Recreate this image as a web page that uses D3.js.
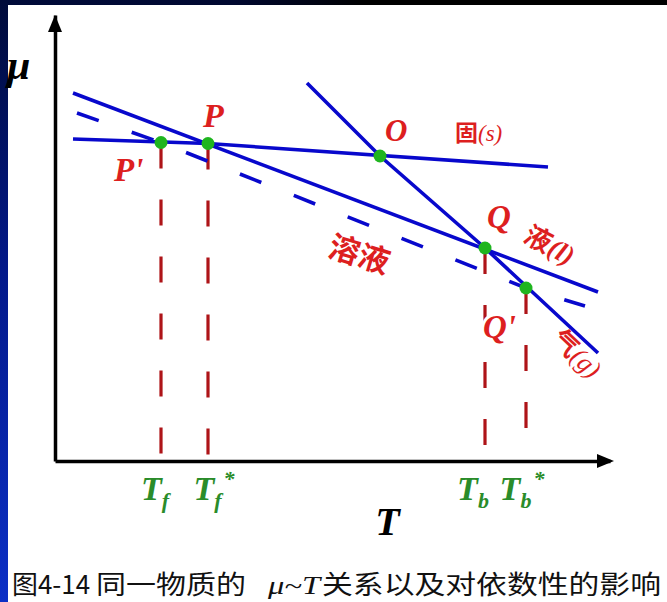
<!DOCTYPE html>
<html>
<head>
<meta charset="utf-8">
<script src="https://cdn.jsdelivr.net/npm/d3@7"></script>
<style>
  html, body { margin: 0; padding: 0; background: #fff; }
  svg { display: block; }
</style>
</head>
<body>
<svg id="chart" width="667" height="602"></svg>
<script>
// μ–T lines of a pure substance (solid, liquid, gas) and of its solution, as [T, μ] pairs
const solidLine    = [[3.6, 64.4], [30.6, 63.5], [98.6, 58.8]];
const liquidLine   = [[3.6, 73.6], [108.6, 33.8]];
const gasLine      = [[50.4, 75.6], [65, 61], [86, 42.6], [108.6, 21.6]];
const solutionLine = [[4.4, 69.6], [21.2, 63.7], [94.2, 34.6], [106, 31]];

// intersection points
const pointNames = ["P'", "P", "O", "Q", "Q'"];
const pointT     = [21.2, 30.6, 65, 86, 94.2];
const pointMu    = [63.7, 63.5, 61, 42.6, 34.6];

// points dropped onto the T axis, with their temperature labels
const dropPoints  = ["P'", "P", "Q", "Q'"];
const tickMain    = ["T", "T", "T", "T"];
const tickSub     = ["f", "f", "b", "b"];
const tickStar    = ["", "*", "", "*"];

const captionParts = ["图4-14", "同一物质的", "μ~T", "关系以及对依数性的影响"];

const W = 667, H = 602;
const svg = d3.select("#chart");

const x = d3.scaleLinear().domain([0, 111]).range([55, 610]);
const y = d3.scaleLinear().domain([0, 89.2]).range([461, 15]);

const BLUE = "#0808cc", RED = "#dd1f1f", DARKRED = "#ae1418", GREEN = "#2a8c2a", DOT = "#1fb51f";
const SERIF = "'Liberation Serif','Times New Roman',serif";
const CJK = "'Noto Sans CJK SC','Noto Sans CJK TC',sans-serif";

// slide frame: dark strip on top and a blue gradient strip on the left
const defs = svg.append("defs");
const gTop = defs.append("linearGradient").attr("id", "topStrip").attr("x1", 0).attr("x2", 1).attr("y1", 0).attr("y2", 0);
gTop.append("stop").attr("offset", "0%").attr("stop-color", "#000b3a");
gTop.append("stop").attr("offset", "35%").attr("stop-color", "#000830");
gTop.append("stop").attr("offset", "55%").attr("stop-color", "#000000");
gTop.append("stop").attr("offset", "100%").attr("stop-color", "#000000");
const gLeft = defs.append("linearGradient").attr("id", "leftStrip").attr("x1", 0).attr("x2", 0).attr("y1", 0).attr("y2", 1);
gLeft.append("stop").attr("offset", "0%").attr("stop-color", "#000b3a");
gLeft.append("stop").attr("offset", "45%").attr("stop-color", "#03198a");
gLeft.append("stop").attr("offset", "100%").attr("stop-color", "#0c30c6");

svg.append("rect").attr("width", W).attr("height", H).attr("fill", "#fff");
svg.append("rect").attr("x", 0).attr("y", 0).attr("width", W).attr("height", 5).attr("fill", "url(#topStrip)");
svg.append("rect").attr("x", 0).attr("y", 0).attr("width", 8).attr("height", H).attr("fill", "url(#leftStrip)");

// axes (no ticks) with arrow heads
const xAxis = svg.append("g").attr("transform", `translate(0,${y(0)})`)
  .call(d3.axisBottom(x).tickValues([]).tickSizeOuter(0));
const yAxis = svg.append("g").attr("transform", `translate(${x(0)},0)`)
  .call(d3.axisLeft(y).tickValues([]).tickSizeOuter(0));
[xAxis, yAxis].forEach(a => a.select(".domain").attr("stroke", "#000").attr("stroke-width", 3.5));

const [x0, x1] = x.range();
const [yb, yt] = y.range();
svg.append("path")
  .attr("d", `M${x1 + 4},${yb} L${x1 - 13},${yb - 7} L${x1 - 13},${yb + 7} Z`)
  .attr("fill", "#000");
svg.append("path")
  .attr("d", `M${x0},${yt} L${x0 - 7},${yt + 17} L${x0 + 7},${yt + 17} Z`)
  .attr("fill", "#000");

const line = d3.line().x(d => x(d[0])).y(d => y(d[1]));

// dashed drop lines from intersection points to the T axis
const dropData = dropPoints.map(n => {
  const i = pointNames.indexOf(n);
  return { T: pointT[i], mu: pointMu[i] };
});
svg.append("g").selectAll("line").data(dropData).join("line")
  .attr("x1", d => x(d.T)).attr("x2", d => x(d.T))
  .attr("y1", d => y(d.mu)).attr("y2", y(0) - 2)
  .attr("stroke", DARKRED).attr("stroke-width", 3.2)
  .attr("stroke-dasharray", "26,31");

// μ–T lines
[solidLine, liquidLine, gasLine].forEach(pts => {
  svg.append("path").datum(pts).attr("d", line)
    .attr("fill", "none").attr("stroke", BLUE).attr("stroke-width", 3.6);
});
svg.append("path").datum(solutionLine).attr("d", line)
  .attr("fill", "none").attr("stroke", BLUE).attr("stroke-width", 3.6)
  .attr("stroke-dasharray", "23,35");

// intersection dots
svg.append("g").selectAll("circle").data(pointNames.map((n, i) => ({ n, T: pointT[i], mu: pointMu[i] })))
  .join("circle")
  .attr("cx", d => x(d.T)).attr("cy", d => y(d.mu)).attr("r", 6.5)
  .attr("fill", DOT);

// point labels
const pt = n => { const i = pointNames.indexOf(n); return [x(pointT[i]), y(pointMu[i])]; };
function italicLabel(n, dx, dy, size, halo) {
  const [px, py] = pt(n);
  const t = svg.append("text")
    .attr("x", px + dx).attr("y", py + dy)
    .attr("font-family", SERIF).attr("font-style", "italic").attr("font-weight", "bold")
    .attr("font-size", size).attr("fill", RED)
    .text(n);
  if (halo) t.attr("stroke", "#fff").attr("stroke-width", 6).attr("paint-order", "stroke");
  return t;
}
italicLabel("P", -5, -17, 34);
italicLabel("P'", -47, 38, 33);
italicLabel("O", 5, -15, 31);
italicLabel("Q", 2, -20, 33);
italicLabel("Q'", -43, 50, 33, true);

// phase labels
const solidTxt = svg.append("text").attr("x", pt("O")[0] + 75).attr("y", pt("O")[1] - 15)
  .attr("fill", RED).attr("font-size", 23);
solidTxt.append("tspan").attr("font-family", CJK).attr("font-weight", 700).text("固");
solidTxt.append("tspan").attr("font-family", SERIF).attr("font-style", "italic").text("(s)");

const liqTxt = svg.append("text")
  .attr("transform", `translate(${pt("Q")[0] + 37},${pt("Q")[1] - 7}) rotate(28)`)
  .attr("fill", RED).attr("font-size", 27);
liqTxt.append("tspan").attr("font-family", CJK).attr("font-weight", 700).text("液");
liqTxt.append("tspan").attr("font-family", SERIF).attr("font-style", "italic").attr("font-weight", "bold").text("(l)");

const gasTxt = svg.append("text")
  .attr("transform", `translate(${pt("Q'")[0] + 24},${pt("Q'")[1] + 53}) rotate(43)`)
  .attr("fill", RED).attr("font-size", 26);
gasTxt.append("tspan").attr("font-family", CJK).attr("font-weight", 700).text("气");
gasTxt.append("tspan").attr("font-family", SERIF).attr("font-style", "italic").text("(g)");

svg.append("text")
  .attr("transform", `translate(${x(61)},${y(41.8)}) rotate(17)`)
  .attr("text-anchor", "middle").attr("dominant-baseline", "central")
  .attr("font-family", CJK).attr("font-weight", 700).attr("font-size", 31)
  .attr("fill", RED).text("溶液");

// temperature labels under the drop lines
const tickNudge = [-6, 6, -12, -4];
dropData.forEach((d, i) => {
  const t = svg.append("text")
    .attr("x", x(d.T) + tickNudge[i]).attr("y", y(0) + 39)
    .attr("text-anchor", "middle")
    .attr("font-family", SERIF).attr("font-style", "italic").attr("font-weight", "bold")
    .attr("font-size", 34).attr("fill", GREEN);
  t.append("tspan").text(tickMain[i]);
  t.append("tspan").attr("font-size", 22).attr("dy", 8).text(tickSub[i]);
  if (tickStar[i]) t.append("tspan").attr("font-size", 22).attr("dy", -22).attr("dx", 2).text(tickStar[i]);
});

// axis titles
svg.append("text").attr("x", 7).attr("y", 79)
  .attr("font-family", SERIF).attr("font-style", "italic").attr("font-weight", "bold")
  .attr("font-size", 42).attr("fill", "#000").text("μ");
svg.append("text").attr("x", (x0 + x1) / 2 + 55).attr("y", y(0) + 74)
  .attr("text-anchor", "middle")
  .attr("font-family", SERIF).attr("font-style", "italic").attr("font-weight", "bold")
  .attr("font-size", 40).attr("fill", "#000").text("T");

// figure caption
const capSpans = [
  { t: captionParts[0], x0: 12, x1: 90, f: CJK, s: "normal" },
  { t: captionParts[1], x0: 96, x1: 246, f: CJK, s: "normal" },
  { t: captionParts[2], x0: 268, x1: 320, f: SERIF, s: "italic" },
  { t: captionParts[3], x0: 322, x1: 661, f: CJK, s: "normal" }
];
svg.append("g").selectAll("text").data(capSpans).join("text")
  .attr("x", d => d.x0).attr("y", 594)
  .attr("font-family", d => d.f).attr("font-style", d => d.s)
  .attr("font-size", 26).attr("fill", "#111")
  .attr("textLength", d => d.x1 - d.x0).attr("lengthAdjust", "spacingAndGlyphs")
  .text(d => d.t);
</script>
</body>
</html>
